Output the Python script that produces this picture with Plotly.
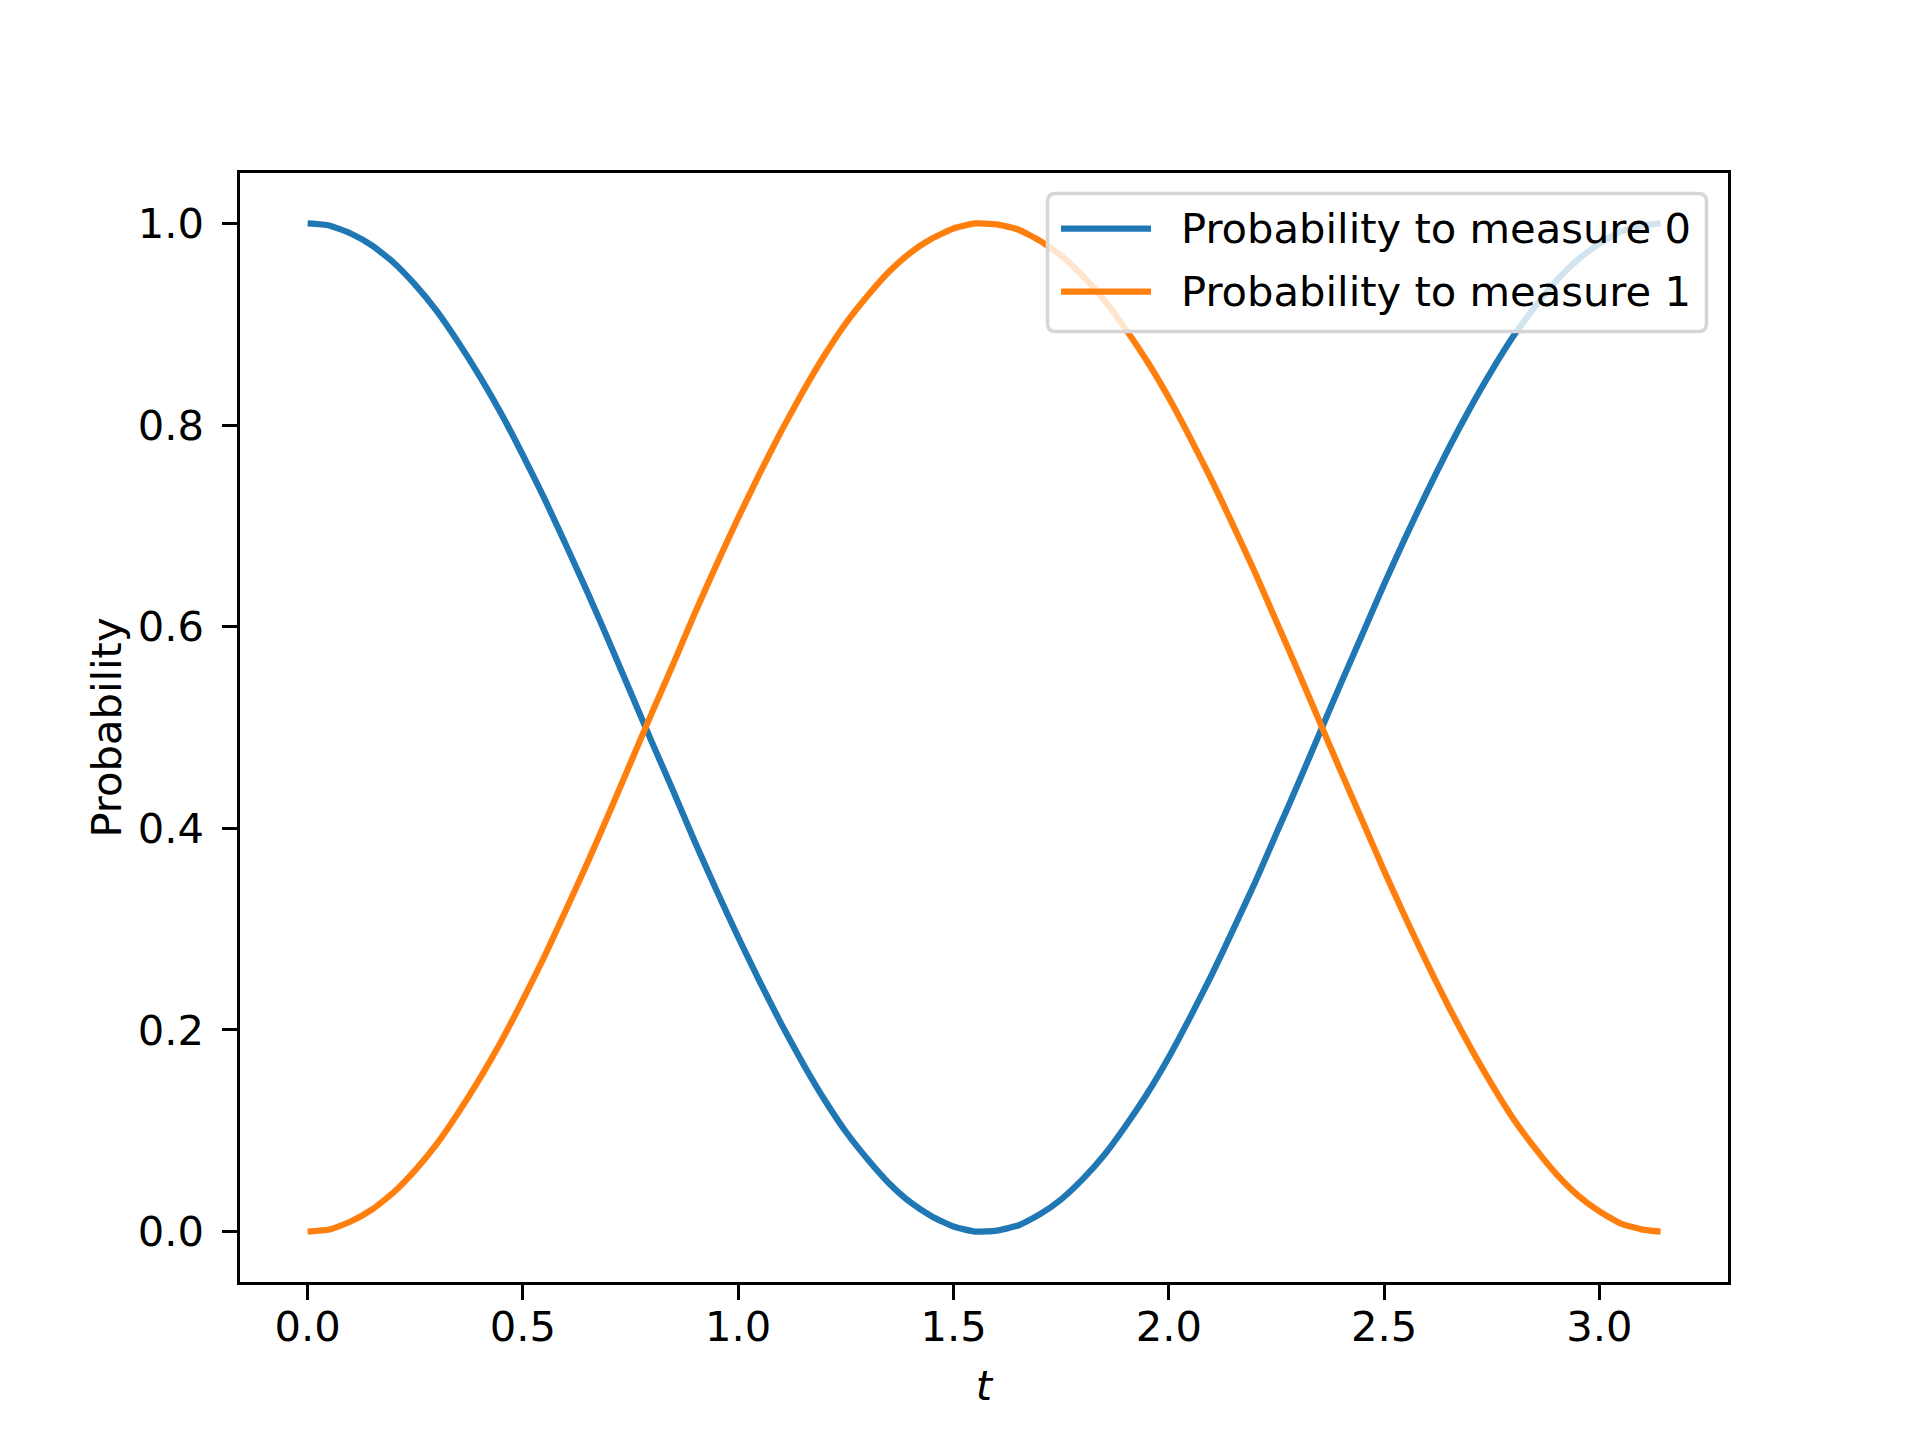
import plotly.graph_objects as go

# ---- data ----
t_values = [0.00, 0.05, 0.10, 0.15, 0.20, 0.25, 0.30, 0.35, 0.40, 0.45, 0.50, 0.55, 0.60, 0.65,
            0.70, 0.75, 0.80, 0.85, 0.90, 0.95, 1.00, 1.05, 1.10, 1.15, 1.20, 1.25, 1.30, 1.35,
            1.40, 1.45, 1.50, 1.55, 1.60, 1.65, 1.70, 1.75, 1.80, 1.85, 1.90, 1.95, 2.00, 2.05,
            2.10, 2.15, 2.20, 2.25, 2.30, 2.35, 2.40, 2.45, 2.50, 2.55, 2.60, 2.65, 2.70, 2.75,
            2.80, 2.85, 2.90, 2.95, 3.00, 3.05, 3.10, 3.142]
prob_0 = [1.000, 0.998, 0.990, 0.978, 0.961, 0.939, 0.913, 0.882, 0.848, 0.811, 0.770, 0.727,
          0.681, 0.634, 0.585, 0.535, 0.485, 0.436, 0.386, 0.338, 0.292, 0.248, 0.206, 0.167,
          0.131, 0.099, 0.072, 0.048, 0.029, 0.015, 0.005, 0.000, 0.001, 0.006, 0.017, 0.032,
          0.052, 0.076, 0.105, 0.137, 0.173, 0.213, 0.255, 0.300, 0.346, 0.395, 0.444, 0.494,
          0.544, 0.593, 0.642, 0.689, 0.734, 0.777, 0.817, 0.854, 0.888, 0.917, 0.943, 0.964,
          0.980, 0.992, 0.998, 1.000]
prob_1 = [0.000, 0.002, 0.010, 0.022, 0.039, 0.061, 0.087, 0.118, 0.152, 0.189, 0.230, 0.273,
          0.319, 0.366, 0.415, 0.465, 0.515, 0.564, 0.614, 0.662, 0.708, 0.752, 0.794, 0.833,
          0.869, 0.901, 0.928, 0.952, 0.971, 0.985, 0.995, 1.000, 0.999, 0.994, 0.983, 0.968,
          0.948, 0.924, 0.895, 0.863, 0.827, 0.787, 0.745, 0.700, 0.654, 0.605, 0.556, 0.506,
          0.456, 0.407, 0.358, 0.311, 0.266, 0.223, 0.183, 0.146, 0.112, 0.083, 0.057, 0.036,
          0.020, 0.008, 0.002, 0.000]
series_names = ["Probability to measure 0", "Probability to measure 1"]
series_colors = ["#1f77b4", "#ff7f0e"]
x_ticks = [0.0, 0.5, 1.0, 1.5, 2.0, 2.5, 3.0]
y_ticks = [0.0, 0.2, 0.4, 0.6, 0.8, 1.0]

# ---- layout constants (pixels) ----
W, H = 1920, 1440
L, R, T, B = 240, 1728, 173, 1282
FS = 41.67
LW = 6.25
FONT = "DejaVu Sans"

fig = go.Figure()
for ys, name, col in zip([prob_0, prob_1], series_names, series_colors):
    fig.add_trace(go.Scatter(x=t_values, y=ys, mode="lines", name=name,
                             line=dict(color=col, width=LW, shape="spline", smoothing=0.5),
                             showlegend=False))

axis_common = dict(showline=True, linecolor="black", linewidth=3.3, mirror=True,
                   ticks="outside", ticklen=14.6, tickwidth=3.3, tickcolor="black",
                   showgrid=False, zeroline=False,
                   tickfont=dict(family=FONT, size=FS, color="black"),
                   tickformat=".1f")

fig.update_layout(
    width=W, height=H,
    margin=dict(l=L, r=W - R, t=T, b=H - B, autoexpand=False),
    paper_bgcolor="white", plot_bgcolor="white",
    font=dict(family=FONT, size=FS, color="black"),
    xaxis=dict(range=[-0.15708, 3.29867], tickvals=x_ticks,
               title=dict(text="<i>t</i>", font=dict(family=FONT, size=FS), standoff=22),
               ticklabelstandoff=-9, **axis_common),
    yaxis=dict(range=[-0.05, 1.05], tickvals=y_ticks,
               title=dict(text="Probability", font=dict(family=FONT, size=FS), standoff=4),
               ticklabelstandoff=10, **axis_common),
)

# ---- manual legend (matplotlib style) ----
def px(x):
    return (x - L) / (R - L)

def py(y):
    return (B - y) / (B - T)

bx0, bx1, by0, by1 = 1047.5, 1706.5, 193.5, 331.5
r = 8
path = (f"M {px(bx0 + r)},{py(by0)} L {px(bx1 - r)},{py(by0)} "
        f"Q {px(bx1)},{py(by0)} {px(bx1)},{py(by0 + r)} "
        f"L {px(bx1)},{py(by1 - r)} Q {px(bx1)},{py(by1)} {px(bx1 - r)},{py(by1)} "
        f"L {px(bx0 + r)},{py(by1)} Q {px(bx0)},{py(by1)} {px(bx0)},{py(by1 - r)} "
        f"L {px(bx0)},{py(by0 + r)} Q {px(bx0)},{py(by0)} {px(bx0 + r)},{py(by0)} Z")
fig.add_shape(type="path", path=path, xref="paper", yref="paper", layer="above",
              fillcolor="rgba(255,255,255,0.8)", line=dict(color="#d6d6d6", width=3.5))

row_y = [228.7, 291.5]
for yy, name, col in zip(row_y, series_names, series_colors):
    fig.add_shape(type="line", xref="paper", yref="paper", layer="above",
                  x0=px(1061), x1=px(1151), y0=py(yy), y1=py(yy),
                  line=dict(color=col, width=LW))
    fig.add_annotation(text=name, xref="paper", yref="paper", x=px(1179), y=py(yy),
                       xanchor="left", yanchor="middle", showarrow=False,
                       font=dict(family=FONT, size=FS, color="black"))

fig.write_html("out.html")
